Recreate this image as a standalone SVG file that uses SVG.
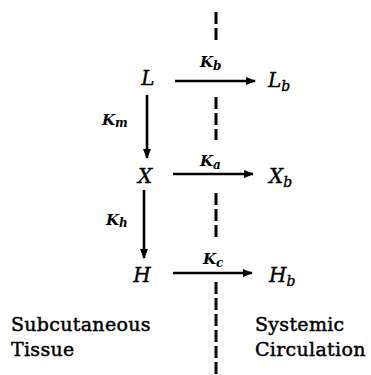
<svg xmlns="http://www.w3.org/2000/svg" width="371" height="375" viewBox="0 0 371 375">
<style>
.sp{font-family:"DejaVu Serif","Liberation Serif",serif;font-style:italic;font-size:20px;fill:#000;stroke:#000;stroke-width:0.4}
.sub{font-size:14px}
.k{font-family:"DejaVu Serif","Liberation Serif",serif;font-style:italic;font-weight:bold;font-size:15px;fill:#000}
.ks{font-size:12px}
.lab{font-family:"DejaVu Serif","Liberation Serif",serif;font-size:19px;letter-spacing:0.3px;fill:#000;stroke:#000;stroke-width:0.45}
.arr{stroke:#000;stroke-width:2.6;fill:none;marker-end:url(#ah)}
.dash{stroke:#000;stroke-width:3;stroke-dasharray:12 4;fill:none}
</style>
<defs>
<marker id="ah" viewBox="0 0 10 8" refX="9" refY="4" markerWidth="4" markerHeight="3.2" orient="auto" markerUnits="strokeWidth">
<path d="M0,0 L10,4 L0,8 Z" fill="#000"/>
</marker>
</defs>
<g id="boundary">
<line class="dash" x1="216" y1="12" x2="216" y2="42"/>
<line class="dash" x1="216" y1="97" x2="216" y2="140"/>
<line class="dash" x1="216" y1="193" x2="216" y2="237"/>
<line class="dash" x1="216" y1="282" x2="216" y2="375"/>
</g>
<g id="connectors">
<line class="arr" x1="175" y1="81" x2="255" y2="81"/>
<line class="arr" x1="173" y1="174" x2="253" y2="174"/>
<line class="arr" x1="173" y1="273" x2="252" y2="273"/>
<line class="arr" x1="147" y1="95" x2="147" y2="158"/>
<line class="arr" x1="144" y1="190" x2="144" y2="258"/>
<text class="k" x="200" y="67">K<tspan class="ks" dy="3">b</tspan></text>
<text class="k" x="200" y="166">K<tspan class="ks" dy="3">a</tspan></text>
<text class="k" x="203" y="264">K<tspan class="ks" dy="3">c</tspan></text>
<text class="k" x="102" y="125">K<tspan class="ks" dy="2">m</tspan></text>
<text class="k" x="106" y="225">K<tspan class="ks" dy="2">h</tspan></text>
</g>
<g id="node-L"><text class="sp" x="148" y="85" text-anchor="middle">L</text></g>
<g id="node-Lb"><text class="sp" x="268" y="87">L<tspan class="sub" dy="4">b</tspan></text></g>
<g id="node-X"><text class="sp" x="145" y="183" text-anchor="middle">X</text></g>
<g id="node-Xb"><text class="sp" x="269" y="183">X<tspan class="sub" dy="4">b</tspan></text></g>
<g id="node-H"><text class="sp" x="142" y="282" text-anchor="middle">H</text></g>
<g id="node-Hb"><text class="sp" x="269" y="282">H<tspan class="sub" dy="4">b</tspan></text></g>
<g id="region-labels">
<text class="lab" x="11" y="331">Subcutaneous</text>
<text class="lab" x="11" y="356">Tissue</text>
<text class="lab" x="255" y="331">Systemic</text>
<text class="lab" x="255" y="356">Circulation</text>
</g>
</svg>
